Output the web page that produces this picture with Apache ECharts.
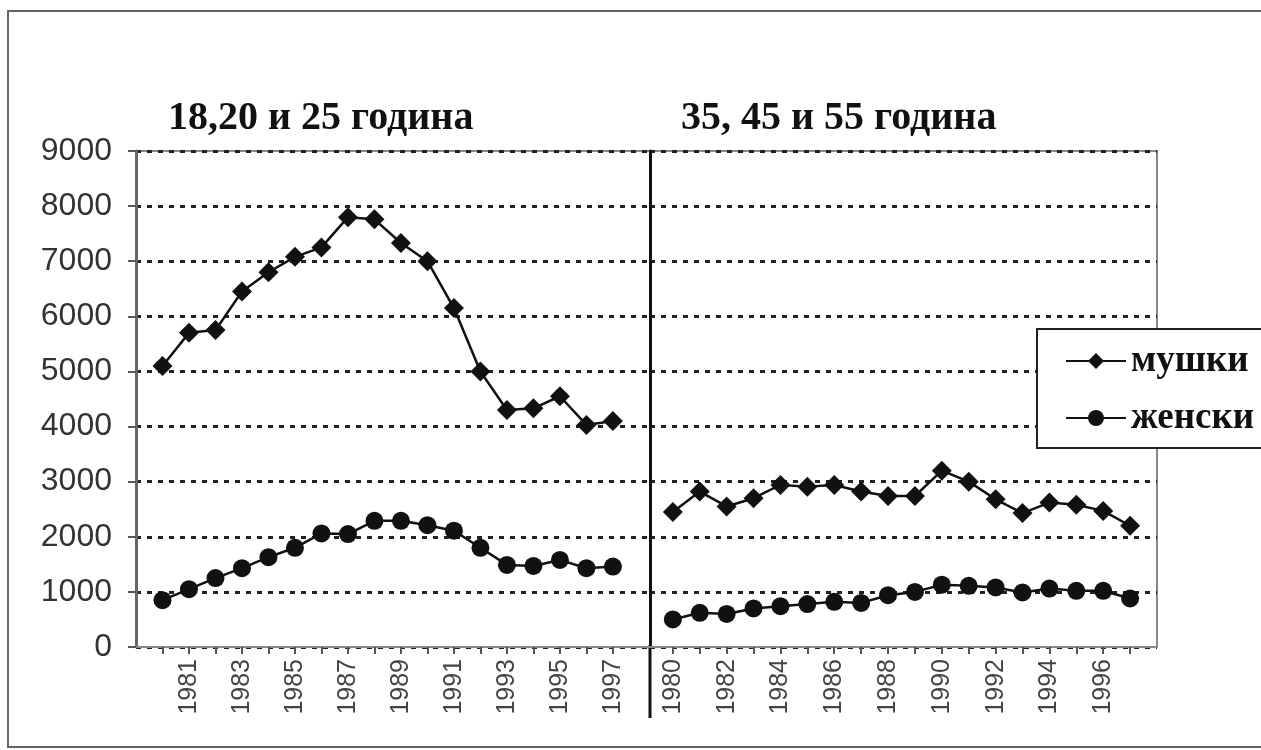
<!DOCTYPE html>
<html>
<head>
<meta charset="utf-8">
<script src="https://cdn.jsdelivr.net/npm/echarts@6/dist/echarts.min.js"></script>
<style>
  html, body { margin: 0; padding: 0; background: #fff; }
  #chart { width: 1261px; height: 750px; }
</style>
</head>
<body>
<div id="chart"></div>
<script>
const years = [1980, 1981, 1982, 1983, 1984, 1985, 1986, 1987, 1988,
  1989, 1990, 1991, 1992, 1993, 1994, 1995, 1996, 1997];
const leftLabels = [1981, 1983, 1985, 1987, 1989, 1991, 1993, 1995, 1997];
const rightLabels = [1980, 1982, 1984, 1986, 1988, 1990, 1992, 1994, 1996];
const yTicks = [0, 1000, 2000, 3000, 4000, 5000, 6000, 7000, 8000, 9000];

// 18, 20 и 25 година
const youngMale = [5100, 5700, 5750, 6450, 6800, 7080, 7250, 7800, 7760,
  7330, 7000, 6150, 5000, 4300, 4330, 4550, 4030, 4100];
const youngFemale = [850, 1050, 1250, 1430, 1630, 1800, 2060, 2050, 2290,
  2290, 2210, 2110, 1800, 1490, 1470, 1580, 1430, 1460];
// 35, 45 и 55 година
const oldMale = [2450, 2820, 2550, 2700, 2940, 2910, 2940, 2820, 2740,
  2740, 3200, 3000, 2680, 2430, 2620, 2580, 2470, 2200];
const oldFemale = [500, 620, 600, 700, 740, 780, 820, 800, 940,
  1000, 1130, 1110, 1080, 990, 1060, 1020, 1020, 880];

const pairs = vals => years.map((y, i) => [y, vals[i]]);

const chart = echarts.init(document.getElementById('chart'));

const gridLine = { show: true, lineStyle: { color: '#222', width: 3, type: [5, 6] } };
const serifBold = { fontFamily: 'Liberation Serif', fontWeight: 'bold', color: '#111' };

const xAxisBase = (gridIndex, min, max, labels) => ({
  type: 'value',
  gridIndex,
  min,
  max,
  splitLine: { show: false },
  axisLine: { show: true, onZero: false, lineStyle: { color: '#888', width: 2 } },
  axisTick: { show: true, customValues: years, length: 7, lineStyle: { color: '#555', width: 2 } },
  axisLabel: {
    customValues: labels,
    rotate: 90,
    margin: 12,
    fontFamily: 'Liberation Sans',
    fontSize: 25,
    color: '#444',
    formatter: v => String(v)
  }
});

const lineSeries = (name, vals, idx, symbol, size) => ({
  name,
  type: 'line',
  xAxisIndex: idx,
  yAxisIndex: idx,
  data: pairs(vals),
  symbol,
  symbolSize: size,
  color: '#111',
  lineStyle: { color: '#111', width: 2.5 },
  itemStyle: { color: '#111' },
  animation: false
});

chart.setOption({
  animation: false,
  title: [
    { text: '18,20 и 25 година', left: 163, top: 94, textStyle: { ...serifBold, fontSize: 40 } },
    { text: '35, 45 и 55 година', left: 676, top: 94, textStyle: { ...serifBold, fontSize: 40 } }
  ],
  legend: {
    orient: 'vertical',
    left: 1037,
    top: 329,
    data: ['мушки', 'женски'],
    backgroundColor: '#fff',
    borderColor: '#222',
    borderWidth: 2,
    padding: [13, 40, 11, 28],
    itemWidth: 60,
    itemHeight: 20,
    itemGap: 19,
    textStyle: { ...serifBold, fontSize: 37, lineHeight: 38 }
  },
  grid: [
    { left: 136, top: 151, width: 514, height: 496, show: true, borderColor: '#888', borderWidth: 2 },
    { left: 650, top: 151, width: 507, height: 496, show: true, borderColor: '#888', borderWidth: 2 }
  ],
  xAxis: [
    xAxisBase(0, 1979, 1998.4, leftLabels),
    xAxisBase(1, 1979.15, 1998, rightLabels)
  ],
  yAxis: [
    {
      type: 'value', gridIndex: 0, min: yTicks[0], max: yTicks[yTicks.length - 1], interval: 1000,
      splitLine: gridLine,
      axisLine: { show: true, lineStyle: { color: '#666', width: 3 } },
      axisTick: { show: true, length: 8, lineStyle: { color: '#555', width: 2 } },
      axisLabel: { margin: 24, fontFamily: 'Liberation Sans', fontSize: 32, color: '#333', formatter: v => String(v) }
    },
    {
      type: 'value', gridIndex: 1, min: yTicks[0], max: yTicks[yTicks.length - 1], interval: 1000,
      splitLine: gridLine,
      axisLine: { show: true, lineStyle: { color: '#111', width: 3 } },
      axisTick: { show: false },
      axisLabel: { show: false }
    }
  ],
  graphic: [
    { type: 'rect', shape: { x: 8, y: 11, width: 1300, height: 736 }, style: { fill: 'none', stroke: '#666', lineWidth: 2 }, silent: true },
    { type: 'line', shape: { x1: 650, y1: 645, x2: 650, y2: 718 }, style: { stroke: '#111', lineWidth: 3 }, silent: true }
  ],
  series: [
    lineSeries('мушки', youngMale, 0, 'diamond', 20),
    lineSeries('женски', youngFemale, 0, 'circle', 18),
    lineSeries('мушки', oldMale, 1, 'diamond', 20),
    lineSeries('женски', oldFemale, 1, 'circle', 18)
  ]
});
</script>
</body>
</html>
